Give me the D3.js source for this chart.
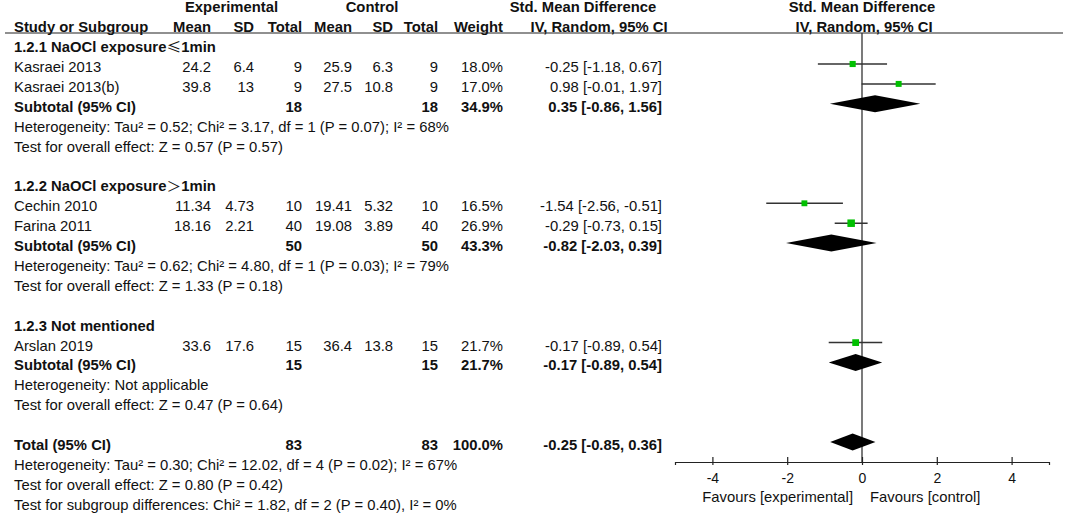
<!DOCTYPE html>
<html>
<head>
<meta charset="utf-8">
<script src="https://cdn.jsdelivr.net/npm/d3@7"></script>
<style>
  body { margin: 0; background: #fff; }
  svg text { font-family: "Liberation Sans", Arial, sans-serif; font-size: 14px; fill: #111; }
</style>
</head>
<body>
<svg width="1065" height="514"></svg>
<script>
// study level data
const studies   = ["Kasraei 2013", "Kasraei 2013(b)", "Cechin 2010", "Farina 2011", "Arslan 2019"];
const studyGroup = [0, 0, 1, 1, 2];
const expMean   = [24.2, 39.8, 11.34, 18.16, 33.6];
const expSD     = [6.4, 13, 4.73, 2.21, 17.6];
const expN      = [9, 9, 10, 40, 15];
const ctlMean   = [25.9, 27.5, 19.41, 19.08, 36.4];
const ctlSD     = [6.3, 10.8, 5.32, 3.89, 13.8];
const ctlN      = [9, 9, 10, 40, 15];
const weight    = [18.0, 17.0, 16.5, 26.9, 21.7];
const smd       = [-0.25, 0.98, -1.54, -0.29, -0.17];
const ciLow     = [-1.18, -0.01, -2.56, -0.73, -0.89];
const ciHigh    = [0.67, 1.97, -0.51, 0.15, 0.54];

// subgroup data
const subgroups  = ["1.2.1 NaOCl exposure≤1min", "1.2.2 NaOCl exposure＞1min", "1.2.3 Not mentioned"];
const subExpN    = [18, 50, 15];
const subCtlN    = [18, 50, 15];
const subWeight  = [34.9, 43.3, 21.7];
const subSmd     = [0.35, -0.82, -0.17];
const subLow     = [-0.86, -2.03, -0.89];
const subHigh    = [1.56, 0.39, 0.54];
const subHet     = ["Heterogeneity: Tau² = 0.52; Chi² = 3.17, df = 1 (P = 0.07); I² = 68%",
                    "Heterogeneity: Tau² = 0.62; Chi² = 4.80, df = 1 (P = 0.03); I² = 79%",
                    "Heterogeneity: Not applicable"];
const subEffect  = ["Test for overall effect: Z = 0.57 (P = 0.57)",
                    "Test for overall effect: Z = 1.33 (P = 0.18)",
                    "Test for overall effect: Z = 0.47 (P = 0.64)"];

// overall
const totalExpN = 83, totalCtlN = 83, totalWeight = 100.0;
const totalSmd = -0.25, totalLow = -0.85, totalHigh = 0.36;
const totalNotes = ["Heterogeneity: Tau² = 0.30; Chi² = 12.02, df = 4 (P = 0.02); I² = 67%",
                    "Test for overall effect: Z = 0.80 (P = 0.42)",
                    "Test for subgroup differences: Chi² = 1.82, df = 2 (P = 0.40), I² = 0%"];

const axisTicks = [-4, -2, 0, 2, 4];
const favours = ["Favours [experimental]", "Favours [control]"];

const svg = d3.select("svg");
const K = 1.06; // the original text is a little wide

// scales
const rowY = d3.scaleLinear().domain([0, 25]).range([7.3, 504.8]);
const x = d3.scaleLinear().domain([-5, 5]).range([675, 1049]);
const boxSize = d3.scaleSqrt().domain([0, d3.max(weight)]).range([0, 7.5]);

const col = { label: 14, expMean: 211, expSD: 254, expN: 302, ctlMean: 352, ctlSD: 393, ctlN: 438, weight: 503, ci: 662 };
const axisY = 462, headLineY = 33;

function txt(xp, y, s, anchor, bold) {
    const t = svg.append("text")
        .attr("transform", `translate(${xp},${y}) scale(${K},1)`)
        .attr("dy", "0.35em")
        .attr("text-anchor", anchor || "start")
        .style("font-weight", bold ? "bold" : null);
    // put the CJK comparison signs in their own font
    s.split(/([≤＞])/).forEach(part => {
        if (!part) return;
        const ts = t.append("tspan").text(part);
        if (part === "≤" || part === "＞") ts.style("font-family", "'Noto Sans CJK SC'").style("font-weight", "normal");
    });
    return t;
}
const ciText = (m, l, h) => `${m.toFixed(2)} [${l.toFixed(2)}, ${h.toFixed(2)}]`;

// header
txt(231.5, rowY(0), "Experimental", "middle", true);
txt(372, rowY(0), "Control", "middle", true);
txt(583, rowY(0), "Std. Mean Difference", "middle", true);
txt(x(0), rowY(0), "Std. Mean Difference", "middle", true);
txt(col.label, rowY(1), "Study or Subgroup", "start", true);
[["Mean", col.expMean], ["SD", col.expSD], ["Total", col.expN], ["Mean", col.ctlMean],
 ["SD", col.ctlSD], ["Total", col.ctlN], ["Weight", col.weight]]
    .forEach(([s, xp]) => txt(xp, rowY(1), s, "end", true));
txt(599, rowY(1), "IV, Random, 95% CI", "middle", true);
txt(x(0) + 2, rowY(1), "IV, Random, 95% CI", "middle", true);

svg.append("line")
    .attr("x1", 5).attr("x2", 1063)
    .attr("y1", headLineY).attr("y2", headLineY)
    .style("stroke", "#222").style("stroke-width", 1.2);

// zero line
svg.append("line")
    .attr("x1", x(0)).attr("x2", x(0))
    .attr("y1", headLineY).attr("y2", axisY)
    .style("stroke", "#222").style("stroke-width", 1.2);

const plot = svg.append("g");

function diamond(line, m, l, h) {
    const y = rowY(line) - 3;
    plot.append("path")
        .attr("d", `M${x(l)},${y}L${x(m)},${y - 8.5}L${x(h)},${y}L${x(m)},${y + 8.5}Z`)
        .style("fill", "#000");
}

// body rows
let line = 2;
subgroups.forEach((g, gi) => {
    txt(col.label, rowY(line), g, "start", true);
    line++;
    studies.forEach((s, i) => {
        if (studyGroup[i] !== gi) return;
        const y = rowY(line);
        txt(col.label, y, s);
        txt(col.expMean, y, String(expMean[i]), "end");
        txt(col.expSD, y, String(expSD[i]), "end");
        txt(col.expN, y, String(expN[i]), "end");
        txt(col.ctlMean, y, String(ctlMean[i]), "end");
        txt(col.ctlSD, y, String(ctlSD[i]), "end");
        txt(col.ctlN, y, String(ctlN[i]), "end");
        txt(col.weight, y, weight[i].toFixed(1) + "%", "end");
        txt(col.ci, y, ciText(smd[i], ciLow[i], ciHigh[i]), "end");

        const my = y - 3;
        plot.append("line")
            .attr("x1", x(ciLow[i])).attr("x2", x(ciHigh[i]))
            .attr("y1", my).attr("y2", my)
            .style("stroke", "#333").style("stroke-width", 1.5);
        const b = boxSize(weight[i]);
        plot.append("rect")
            .attr("x", x(smd[i]) - b / 2).attr("y", my - b / 2)
            .attr("width", b).attr("height", b)
            .style("fill", "#00c000");
        line++;
    });
    const y = rowY(line);
    txt(col.label, y, "Subtotal (95% CI)", "start", true);
    txt(col.expN, y, String(subExpN[gi]), "end", true);
    txt(col.ctlN, y, String(subCtlN[gi]), "end", true);
    txt(col.weight, y, subWeight[gi].toFixed(1) + "%", "end", true);
    txt(col.ci, y, ciText(subSmd[gi], subLow[gi], subHigh[gi]), "end", true);
    diamond(line, subSmd[gi], subLow[gi], subHigh[gi]);
    line++;
    txt(col.label, rowY(line++), subHet[gi]);
    txt(col.label, rowY(line++), subEffect[gi]);
    line++;
});

// total
const ty = rowY(line);
txt(col.label, ty, "Total (95% CI)", "start", true);
txt(col.expN, ty, String(totalExpN), "end", true);
txt(col.ctlN, ty, String(totalCtlN), "end", true);
txt(col.weight, ty, totalWeight.toFixed(1) + "%", "end", true);
txt(col.ci, ty, ciText(totalSmd, totalLow, totalHigh), "end", true);
diamond(line, totalSmd, totalLow, totalHigh);
line++;
totalNotes.forEach(n => txt(col.label, rowY(line++), n));

// axis
const ax = svg.append("g")
    .attr("transform", `translate(0,${axisY})`)
    .call(d3.axisBottom(x).tickValues(axisTicks).tickSizeOuter(0).tickSize(3).tickPadding(8));
ax.select(".domain").style("stroke", "#222").style("stroke-width", 1.2);
ax.selectAll(".tick line").attr("y1", -5).attr("y2", 3).style("stroke", "#222").style("stroke-width", 1.2);
ax.selectAll(".tick text")
    .text(d => d < 0 ? "-" + Math.abs(d) : d)
    .style("font-family", "'Liberation Sans', Arial, sans-serif")
    .style("font-size", "14px").style("fill", "#111");

txt(x(0) - 9, 497, favours[0], "end");
txt(x(0) + 8, 497, favours[1], "start");
</script>
</body>
</html>
